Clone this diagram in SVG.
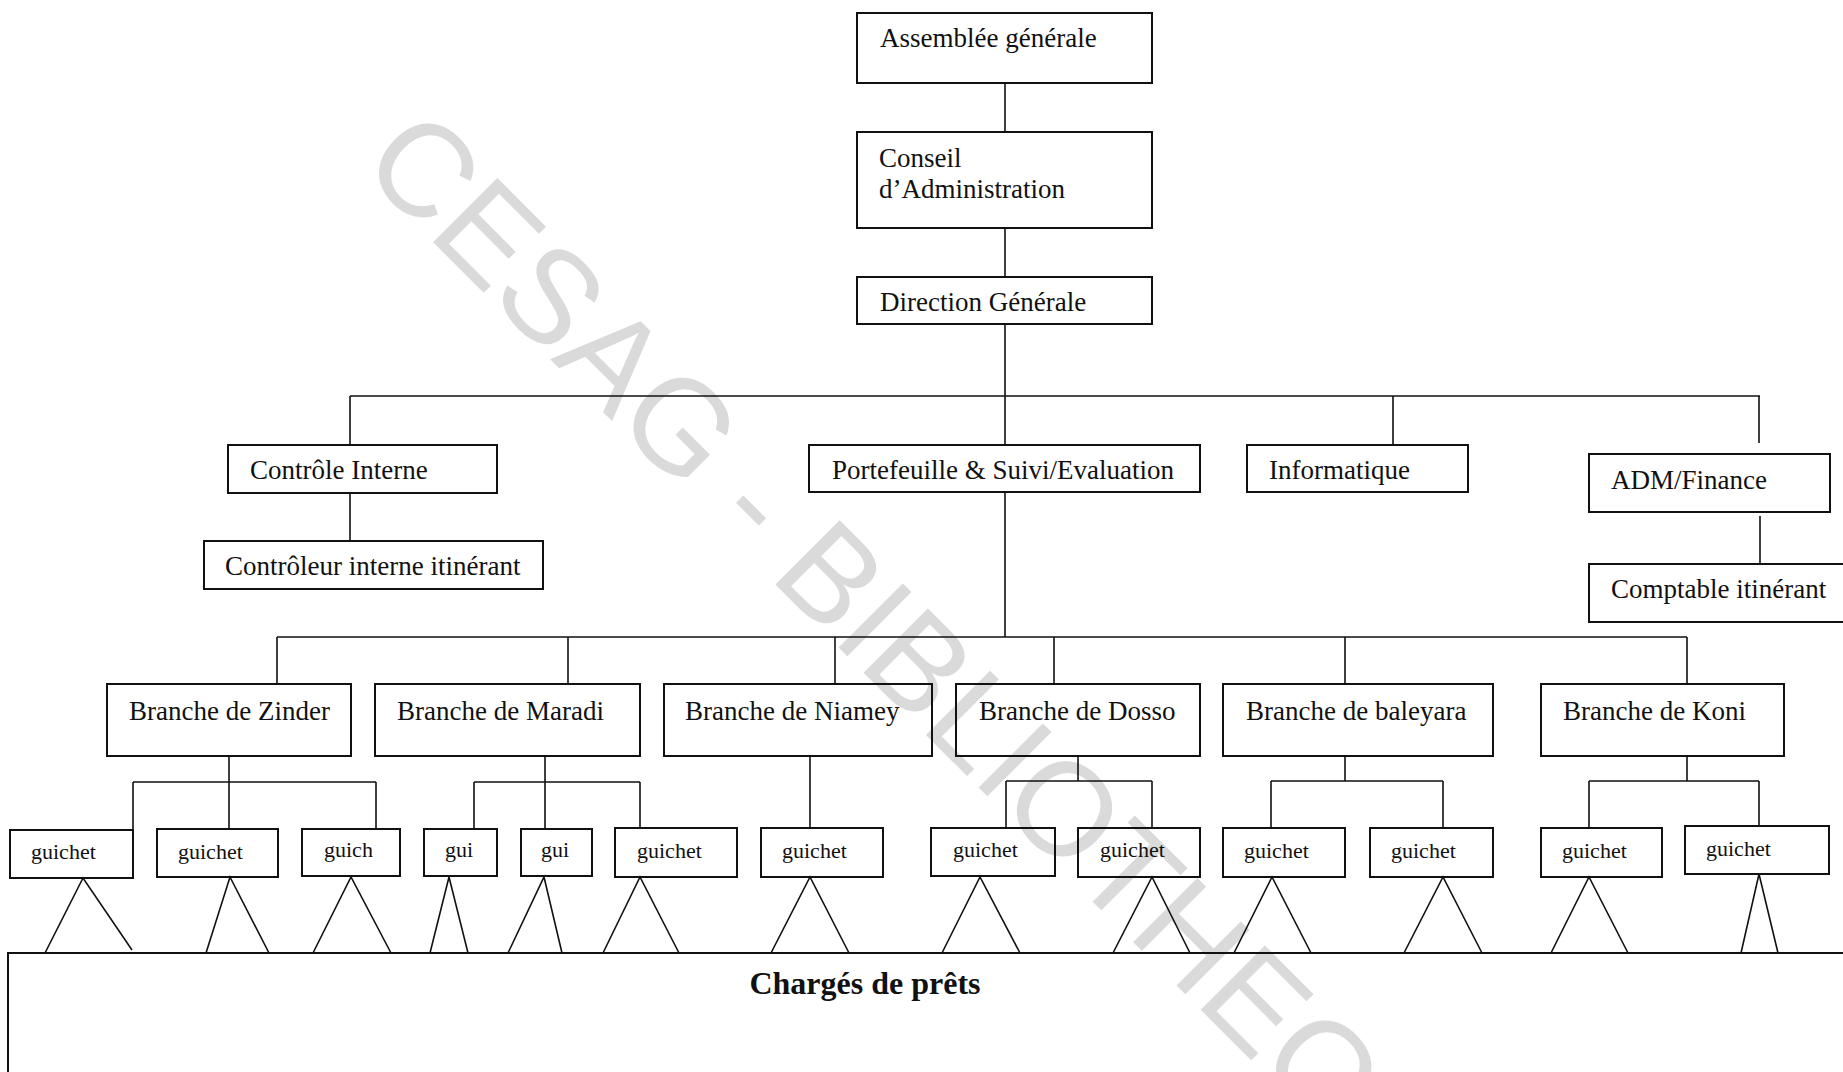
<svg xmlns="http://www.w3.org/2000/svg" width="1843" height="1072" viewBox="0 0 1843 1072">
<style>
.box{fill:none;stroke:#111;stroke-width:2}
.ln{fill:none;stroke:#111;stroke-width:1.6}
.t{font-family:"Liberation Serif","Times New Roman",serif;font-size:27px;fill:#111}
.g{font-family:"Liberation Serif","Times New Roman",serif;font-size:22px;fill:#111}
.b{font-family:"Liberation Serif","Times New Roman",serif;font-size:32px;font-weight:bold;fill:#111}
.wm{font-family:"Liberation Sans",Arial,sans-serif;font-size:132px;fill:#dadada}
</style>
<rect width="1843" height="1072" fill="#fff"/>
<text class="wm" transform="translate(358,167) rotate(45)">CESAG - BIBLIOTHEQUE</text>

<g id="connectors">
<path class="ln" d="M1005 83V132M1005 228V277M1005 324V396M350 396H1760M350 396V445M1005 396V445M1393 396V445M1759 396V443M350 493V541M1760 516V564"/>
<path class="ln" d="M1005 492V637M277 637H1687M277 637V684M568 637V684M835 637V684M1054 637V684M1345 637V684M1687 637V684"/>
<path class="ln" d="M229 757V829M133 782H376M133 782V830M376 782V829"/>
<path class="ln" d="M545 757V829M474 782H640M474 782V829M640 782V828"/>
<path class="ln" d="M810 757V828"/>
<path class="ln" d="M1078 757V781M1006 781H1152M1006 781V828M1152 781V828"/>
<path class="ln" d="M1345 757V781M1271 781H1443M1271 781V828M1443 781V828"/>
<path class="ln" d="M1687 757V781M1589 781H1759M1589 781V828M1759 781V826"/>
<path class="ln" d="M45 953L83 878L132 950M206 953L230 877L269 953M313 953L351 877L391 953M430 953L449 877L468 953M508 953L544 877L562 953M603 953L640 877L679 953M771 953L810 877L849 953M942 953L980 877L1020 953M1113 953L1152 877L1190 953M1234 953L1272 877L1311 953M1404 953L1443 877L1482 953M1551 953L1589 877L1628 953M1741 953L1759 874L1778 953"/>
</g>

<g id="assemblee"><rect class="box" x="857" y="13" width="295" height="70"/><text class="t" x="880" y="47">Assemblée générale</text></g>
<g id="conseil"><rect class="box" x="857" y="132" width="295" height="96"/><text class="t" x="879" y="167">Conseil</text><text class="t" x="879" y="198">d’Administration</text></g>
<g id="direction"><rect class="box" x="857" y="277" width="295" height="47"/><text class="t" x="880" y="311">Direction Générale</text></g>
<g id="controle-interne"><rect class="box" x="228" y="445" width="269" height="48"/><text class="t" x="250" y="479">Contrôle Interne</text></g>
<g id="controleur-itinerant"><rect class="box" x="204" y="541" width="339" height="48"/><text class="t" x="225" y="575">Contrôleur interne itinérant</text></g>
<g id="portefeuille"><rect class="box" x="809" y="445" width="391" height="47"/><text class="t" x="832" y="479">Portefeuille &amp; Suivi/Evaluation</text></g>
<g id="informatique"><rect class="box" x="1247" y="445" width="221" height="47"/><text class="t" x="1269" y="479">Informatique</text></g>
<g id="adm-finance"><rect class="box" x="1589" y="454" width="241" height="58"/><text class="t" x="1611" y="489">ADM/Finance</text></g>
<g id="comptable"><rect class="box" x="1589" y="564" width="260" height="58"/><text class="t" x="1611" y="598">Comptable itinérant</text></g>

<g id="branche-zinder"><rect class="box" x="107" y="684" width="244" height="72"/><text class="t" x="129" y="720">Branche de Zinder</text></g>
<g id="branche-maradi"><rect class="box" x="375" y="684" width="265" height="72"/><text class="t" x="397" y="720">Branche de Maradi</text></g>
<g id="branche-niamey"><rect class="box" x="664" y="684" width="268" height="72"/><text class="t" x="685" y="720">Branche de Niamey</text></g>
<g id="branche-dosso"><rect class="box" x="956" y="684" width="244" height="72"/><text class="t" x="979" y="720">Branche de Dosso</text></g>
<g id="branche-baleyara"><rect class="box" x="1223" y="684" width="270" height="72"/><text class="t" x="1246" y="720">Branche de baleyara</text></g>
<g id="branche-koni"><rect class="box" x="1541" y="684" width="243" height="72"/><text class="t" x="1563" y="720">Branche de Koni</text></g>

<g id="guichet-1"><rect class="box" x="10" y="830" width="123" height="48"/><text class="g" x="31" y="859">guichet</text></g>
<g id="guichet-2"><rect class="box" x="157" y="829" width="121" height="48"/><text class="g" x="178" y="859">guichet</text></g>
<g id="guichet-3"><rect class="box" x="302" y="829" width="98" height="47"/><text class="g" x="324" y="857">guich</text></g>
<g id="guichet-4"><rect class="box" x="424" y="829" width="73" height="47"/><text class="g" x="445" y="857">gui</text></g>
<g id="guichet-5"><rect class="box" x="521" y="829" width="71" height="47"/><text class="g" x="541" y="857">gui</text></g>
<g id="guichet-6"><rect class="box" x="615" y="828" width="122" height="49"/><text class="g" x="637" y="858">guichet</text></g>
<g id="guichet-7"><rect class="box" x="761" y="828" width="122" height="49"/><text class="g" x="782" y="858">guichet</text></g>
<g id="guichet-8"><rect class="box" x="931" y="828" width="124" height="48"/><text class="g" x="953" y="857">guichet</text></g>
<g id="guichet-9"><rect class="box" x="1078" y="828" width="122" height="49"/><text class="g" x="1100" y="857">guichet</text></g>
<g id="guichet-10"><rect class="box" x="1223" y="828" width="122" height="49"/><text class="g" x="1244" y="858">guichet</text></g>
<g id="guichet-11"><rect class="box" x="1370" y="828" width="123" height="49"/><text class="g" x="1391" y="858">guichet</text></g>
<g id="guichet-12"><rect class="box" x="1541" y="828" width="121" height="49"/><text class="g" x="1562" y="858">guichet</text></g>
<g id="guichet-13"><rect class="box" x="1685" y="826" width="144" height="48"/><text class="g" x="1706" y="856">guichet</text></g>

<g id="charges-de-prets"><path class="box" d="M8 1072V953H1843"/><text class="b" x="865" y="994" text-anchor="middle">Chargés de prêts</text></g>
</svg>
